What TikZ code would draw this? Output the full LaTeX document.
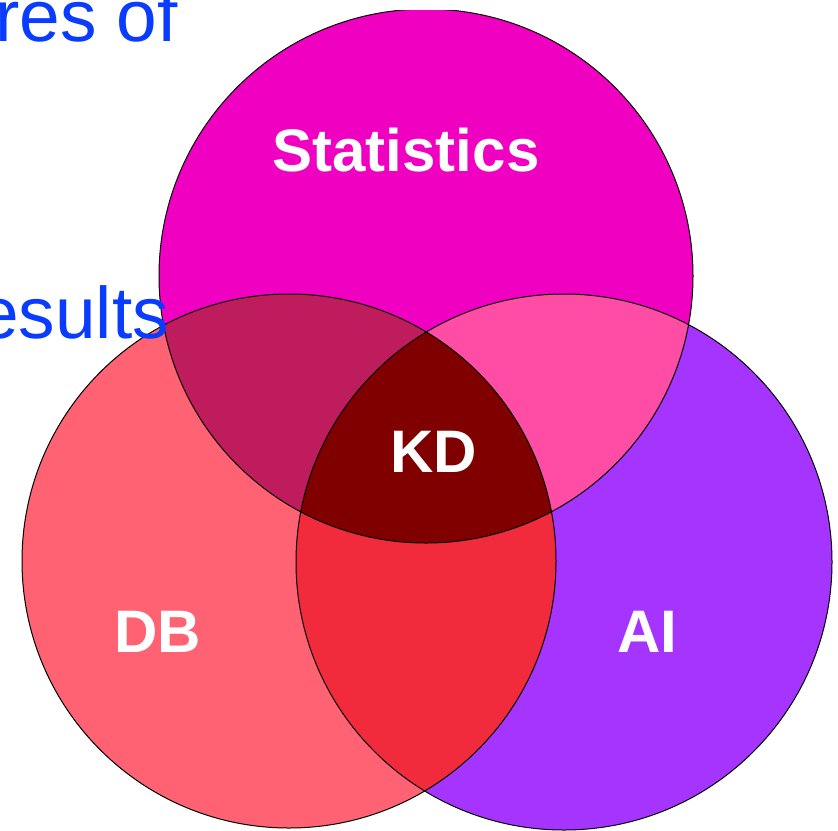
\documentclass[tikz,border=0pt]{standalone}
\usepackage{fontspec}
\setmainfont{Liberation Sans}
\definecolor{statc}{RGB}{240,0,192}
\definecolor{dbc}{RGB}{255,98,114}
\definecolor{aic}{RGB}{166,52,255}
\definecolor{sdb}{RGB}{190,28,92}
\definecolor{sai}{RGB}{255,76,164}
\definecolor{dbai}{RGB}{242,43,60}
\definecolor{kdc}{RGB}{128,0,0}
\definecolor{bluetxt}{RGB}{10,60,255}
\begin{document}
\begin{tikzpicture}[x=1pt,y=-1pt,
  lbl/.style={text=white,font=\fontsize{60}{60}\selectfont\bfseries,inner sep=0pt},
  bluet/.style={text=bluetxt,font=\fontsize{73}{73}\selectfont,inner sep=0pt,anchor=base west},
  outline/.style={draw=black,line width=1pt}]
\useasboundingbox (0,0) rectangle (838,830);
\fill[white] (0,0) rectangle (838,830);
\coordinate (cs) at (426,276);
\coordinate (cd) at (289,561);
\coordinate (ca) at (564,562);
% base circles
\begin{scope}
  \clip (0,10) rectangle (838,830);
  \fill[statc] (cs) circle[radius=267];
\end{scope}
\fill[dbc] (cd) circle[radius=267];
\fill[aic] (ca) circle[radius=268];
% pairwise
\begin{scope}
  \clip (cs) circle[radius=267];
  \fill[sdb] (cd) circle[radius=267];
  \fill[sai] (ca) circle[radius=268];
\end{scope}
\begin{scope}
  \clip (cd) circle[radius=267];
  \fill[dbai] (ca) circle[radius=268];
  \clip (ca) circle[radius=268];
  \fill[kdc] (cs) circle[radius=267];
\end{scope}
% outlines
\begin{scope}
  \clip (0,10) rectangle (838,830);
  \draw[outline] (cs) circle[radius=267];
\end{scope}
\draw[outline] (cd) circle[radius=267];
\draw[outline] (ca) circle[radius=268];
% labels
\node[lbl] (stat) at (406,150) {Statistics};
\node[lbl] (kd) at (434,452) {KD};
\node[lbl] (db) at (158,632) {DB};
\node[lbl] (ai) at (647,632) {AI};
% blue text
\node[bluet] (t1) at (-5,41) {res of};
\node[bluet] (t2) at (-22,338) {esults};
\end{tikzpicture}
\end{document}
